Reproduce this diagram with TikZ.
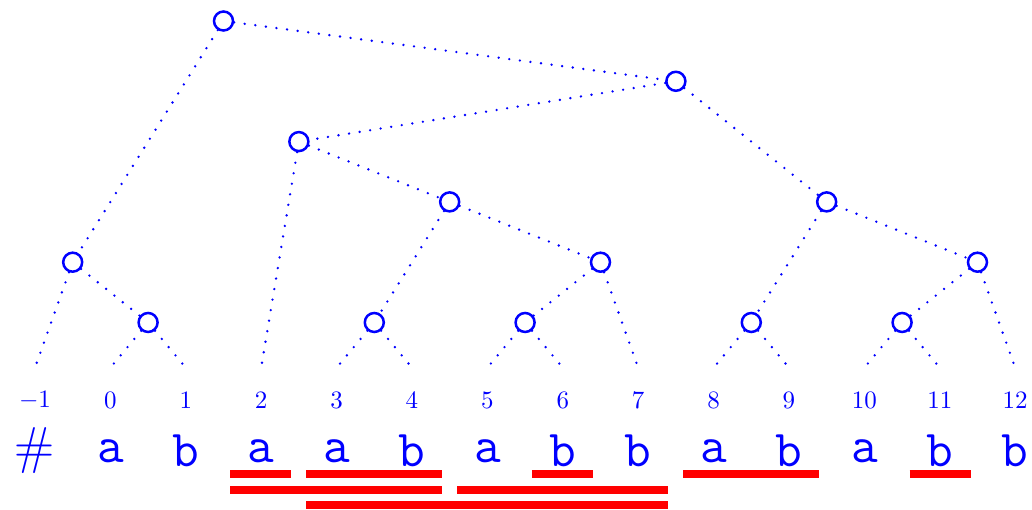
\documentclass[tikz,border=0pt]{standalone}
\usepackage{xcolor}

\begin{document}
\begin{tikzpicture}[x=30.16pt, y=24.12pt,
    every node/.style={
        text=blue,
        inner sep=1pt
    },
    vertex/.style={
        circle,
        draw=blue,
        line width=1pt,
        minimum size=7.6pt,
        inner sep=0pt
    },
    branch/.style={
        blue,
        line width=1.05pt,
        line cap=round,
        dash pattern=on 0pt off 4.27pt
    },
    redbar/.style={
        red,
        line width=3.2pt
    }]
    \useasboundingbox (-1.464, 0.348) rectangle (12.223, -8.109);

    %tree
    \node (n_m1_12) [vertex, shift={(1.5, 0)}] {};
    \node (n_2_12) [vertex, shift={(7.5, -1)}] {};
    \node (n_2_7) [vertex, shift={(2.5, -2)}] {};
    \node (n_3_7) [vertex, shift={(4.5, -3)}] {};
    \node (n_8_12) [vertex, shift={(9.5, -3)}] {};

    \node (n_m1_1) [vertex, shift={(-0.5, -4)}] {};
    \node (n_5_7) [vertex, shift={(6.5, -4)}] {};
    \node (n_10_12) [vertex, shift={(11.5, -4)}] {};

    \node (n_0_1) [vertex, shift={(0.5, -5)}] {};
    \node (n_3_4) [vertex, shift={(3.5, -5)}] {};
    \node (n_5_6) [vertex, shift={(5.5, -5)}] {};
    \node (n_8_9) [vertex, shift={(8.5, -5)}] {};
    \node (n_10_11) [vertex, shift={(10.5, -5)}] {};

    %leaves
    \coordinate (leaf_m1) at (-1, -5.75);
    \coordinate (leaf_0) at (0, -5.75);
    \coordinate (leaf_1) at (1, -5.75);
    \coordinate (leaf_2) at (2, -5.75);
    \coordinate (leaf_3) at (3, -5.75);
    \coordinate (leaf_4) at (4, -5.75);
    \coordinate (leaf_5) at (5, -5.75);
    \coordinate (leaf_6) at (6, -5.75);
    \coordinate (leaf_7) at (7, -5.75);
    \coordinate (leaf_8) at (8, -5.75);
    \coordinate (leaf_9) at (9, -5.75);
    \coordinate (leaf_10) at (10, -5.75);
    \coordinate (leaf_11) at (11, -5.75);
    \coordinate (leaf_12) at (12, -5.75);


    %positions
    \node (idx_m1) [shift={(-1, -6.3)}] {$-1$};
    \node (idx_0) [shift={(0, -6.3)}] {$0$};
    \node (idx_1) [shift={(1, -6.3)}] {$1$};
    \node (idx_2) [shift={(2, -6.3)}] {$2$};
    \node (idx_3) [shift={(3, -6.3)}] {$3$};
    \node (idx_4) [shift={(4, -6.3)}] {$4$};
    \node (idx_5) [shift={(5, -6.3)}] {$5$};
    \node (idx_6) [shift={(6, -6.3)}] {$6$};
    \node (idx_7) [shift={(7, -6.3)}] {$7$};
    \node (idx_8) [shift={(8, -6.3)}] {$8$};
    \node (idx_9) [shift={(9, -6.3)}] {$9$};
    \node (idx_10) [shift={(10, -6.3)}] {$10$};
    \node (idx_11) [shift={(11, -6.3)}] {$11$};
    \node (idx_12) [shift={(12, -6.3)}] {$12$};

    %string
    \node (chr_m1) [shift={(-1, -7.13)}] {\huge\#};
    \node (chr_0) [shift={(0, -7.13)}] {\huge\ttfamily a};
    \node (chr_1) [shift={(1, -7.13)}] {\huge\ttfamily b};
    \node (chr_2) [shift={(2, -7.13)}] {\huge\ttfamily a};
    \node (chr_3) [shift={(3, -7.13)}] {\huge\ttfamily a};
    \node (chr_4) [shift={(4, -7.13)}] {\huge\ttfamily b};
    \node (chr_5) [shift={(5, -7.13)}] {\huge\ttfamily a};
    \node (chr_6) [shift={(6, -7.13)}] {\huge\ttfamily b};
    \node (chr_7) [shift={(7, -7.13)}] {\huge\ttfamily b};
    \node (chr_8) [shift={(8, -7.13)}] {\huge\ttfamily a};
    \node (chr_9) [shift={(9, -7.13)}] {\huge\ttfamily b};
    \node (chr_10) [shift={(10, -7.13)}] {\huge\ttfamily a};
    \node (chr_11) [shift={(11, -7.13)}] {\huge\ttfamily b};
    \node (chr_12) [shift={(12, -7.13)}] {\huge\ttfamily b};



    %tree edges
    \draw[branch] (n_m1_12) to (n_m1_1);
    \draw[branch] (n_m1_12) to (n_2_12);

    \draw[branch] (n_m1_1) to (leaf_m1);
    \draw[branch] (n_m1_1) to (n_0_1);
    \draw[branch] (n_0_1) to (leaf_0);
    \draw[branch] (n_0_1) to (leaf_1);

    \draw[branch] (n_2_12) to (n_2_7);
    \draw[branch] (n_2_12) to (n_8_12);

    \draw[branch] (n_2_7) to (leaf_2);
    \draw[branch] (n_2_7) to (n_3_7);
    \draw[branch] (n_3_7) to (n_3_4);
    \draw[branch] (n_3_7) to (n_5_7);
    \draw[branch] (n_3_4) to (leaf_3);
    \draw[branch] (n_3_4) to (leaf_4);
    \draw[branch] (n_5_7) to (n_5_6);
    \draw[branch] (n_5_7) to (leaf_7);
    \draw[branch] (n_5_6) to (leaf_5);
    \draw[branch] (n_5_6) to (leaf_6);

    \draw[branch] (n_8_12) to (n_8_9);
    \draw[branch] (n_8_12) to (n_10_12);
    \draw[branch] (n_8_9) to (leaf_8);
    \draw[branch] (n_8_9) to (leaf_9);
    \draw[branch] (n_10_12) to (n_10_11);
    \draw[branch] (n_10_12) to (leaf_12);
    \draw[branch] (n_10_11) to (leaf_10);
    \draw[branch] (n_10_11) to (leaf_11);


    %repeats
    \draw[redbar] (1.59, -7.51) -- (2.39, -7.51);
    \draw[redbar] (2.6, -7.51) -- (4.4, -7.51);
    \draw[redbar] (5.59, -7.51) -- (6.4, -7.51);
    \draw[redbar] (7.6, -7.51) -- (9.4, -7.51);
    \draw[redbar] (10.6, -7.51) -- (11.41, -7.51);

    \draw[redbar] (1.59, -7.77) -- (4.4, -7.77);
    \draw[redbar] (4.6, -7.77) -- (7.4, -7.77);

    \draw[redbar] (2.6, -8.02) -- (7.4, -8.02);

\end{tikzpicture}
\end{document}
